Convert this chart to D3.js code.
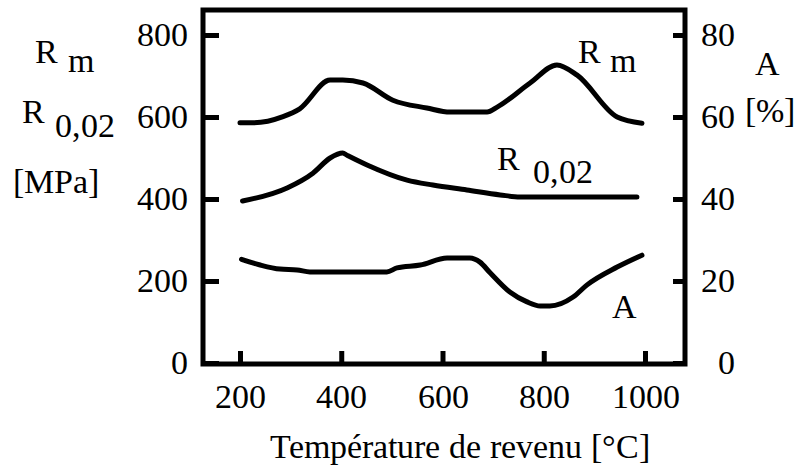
<!DOCTYPE html>
<html>
<head>
<meta charset="utf-8">
<style>
  @font-face { font-family: "ChartSerif"; src: local("Liberation Serif"), local("LiberationSerif"), local("LiberationSerif-Regular"), local("Tinos"), local("Times New Roman"); }
  body { margin: 0; }
  #chart text { font-family: "ChartSerif", "Liberation Serif", "Times New Roman", Times, serif; font-size: 34px; }
</style>
<script src="https://cdn.jsdelivr.net/npm/d3@7"></script>
</head>
<body>
<svg id="chart" width="806" height="468"></svg>
<script>
var width = 806,
    height = 468;

// Rm [MPa]
var rmTemp = [200, 226, 285, 318, 378, 403, 443, 502, 569, 615, 688, 708, 773, 826, 866, 945, 994];
var rmValues = [586, 586, 601, 620, 690, 690, 683, 641, 622, 612, 612, 624, 683, 727, 702, 600, 585];
// R0,02 [MPa]
var rpTemp = [205, 293, 344, 378, 403, 411, 451, 530, 581, 648, 714, 753, 984];
var rpValues = [395, 427, 463, 500, 512, 507, 483, 446, 434, 422, 410, 405, 405];
// A [%]
var aTemp = [203, 240, 279, 313, 338, 490, 510, 556, 609, 635, 654, 674, 694, 733, 767, 793, 812, 858, 885, 945, 994];
var aValues = [25.3, 23.9, 22.9, 22.7, 22.2, 22.2, 23.2, 23.9, 25.6, 25.6, 25.6, 24.6, 22.0, 17.3, 14.9, 13.9, 13.9, 16.1, 19.0, 23.4, 26.3];

var xTicks = [200, 400, 600, 800, 1000];
var yTicksLeft = [0, 200, 400, 600, 800];
var yTicksRight = [0, 20, 40, 60, 80];

var frame = {left: 203, right: 685, top: 10, bottom: 364};

var x = d3.scaleLinear().domain([200, 1000]).range([240, 645]);
var yL = d3.scaleLinear().domain([0, 800]).range([363, 35]);
var yR = d3.scaleLinear().domain([0, 80]).range([363, 35]);

var svg = d3.select("#chart");

// axes, ticks pointing inward
var gL = svg.append("g")
    .attr("transform", "translate(" + frame.left + ",0)")
    .call(d3.axisLeft(yL).tickValues(yTicksLeft).tickSize(-16).tickPadding(15).tickFormat(d3.format("d")));
var gR = svg.append("g")
    .attr("transform", "translate(" + frame.right + ",0)")
    .call(d3.axisRight(yR).tickValues(yTicksRight).tickSize(-12).tickPadding(50).tickFormat(d3.format("d")));
var gB = svg.append("g")
    .attr("transform", "translate(0," + frame.bottom + ")")
    .call(d3.axisBottom(x).tickValues(xTicks).tickSize(-13).tickPadding(20).tickFormat(d3.format("d")));

[gL, gR, gB].forEach(function(g) {
    g.attr("font-family", null).attr("font-size", null);
    g.select(".domain").remove();
    g.selectAll("line").attr("stroke", "#000").attr("stroke-width", 5);
    g.selectAll("text").attr("fill", "#000");
});
gR.selectAll("text").attr("text-anchor", "end");
gB.selectAll("text").attr("dy", "0.71em");

svg.append("rect")
    .attr("x", frame.left)
    .attr("y", frame.top)
    .attr("width", frame.right - frame.left)
    .attr("height", frame.bottom - frame.top)
    .attr("fill", "none")
    .attr("stroke", "#000")
    .attr("stroke-width", 5);

// curves
var lineL = d3.line()
    .x(function(d) { return x(d[0]); })
    .y(function(d) { return yL(d[1]); })
    .curve(d3.curveMonotoneX);
var lineR = d3.line()
    .x(function(d) { return x(d[0]); })
    .y(function(d) { return yR(d[1]); })
    .curve(d3.curveMonotoneX);

var series = [
    {pts: d3.zip(rmTemp, rmValues), line: lineL},
    {pts: d3.zip(rpTemp, rpValues), line: lineL},
    {pts: d3.zip(aTemp, aValues), line: lineR}
];
svg.selectAll(".curve").data(series)
    .enter()
    .append("path")
        .attr("class", "curve")
        .attr("d", function(d) { return d.line(d.pts); })
        .attr("fill", "none")
        .attr("stroke", "#000")
        .attr("stroke-width", 5)
        .attr("stroke-linecap", "round")
        .attr("stroke-linejoin", "round");

function txt(t, lx, ly) {
    return svg.append("text")
        .attr("x", lx)
        .attr("y", ly)
        .text(t);
}
// labels with lowered subscripts
txt("R", 35, 63); txt("m", 68, 72);
txt("R", 22, 123); txt("0,02", 55, 137);
txt("[MPa]", 13, 193);
txt("R", 578, 63); txt("m", 610, 72);
txt("R", 497, 170); txt("0,02", 533, 183);
txt("A", 612, 318);
txt("A", 755, 75);
txt("[%]", 745, 122);

txt("Température de revenu [°C]", 460, 458).attr("text-anchor", "middle");
</script>
</body>
</html>
